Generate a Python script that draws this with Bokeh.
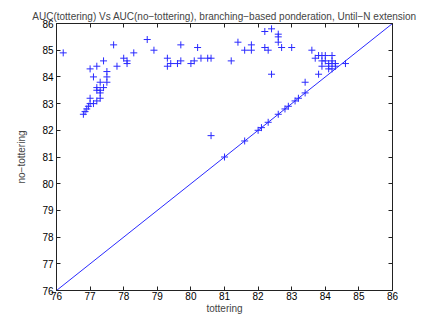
from bokeh.plotting import figure
from bokeh.models import LinearAxis, Range1d, FixedTicker, CustomJSTickFormatter
from bokeh.embed import file_html
from bokeh.resources import INLINE

tottering = [76.2, 76.8, 76.85, 76.9, 76.95, 77.0, 77.0, 77.1, 77.2, 77.2, 77.2, 77.3, 77.3, 77.3, 77.3,
             77.4, 77.5, 77.5, 77.5, 77.1, 77.0, 77.2, 77.4, 77.7, 77.8, 78.0, 78.1, 78.1, 78.3, 78.7,
             78.9, 79.3, 79.3, 79.4, 79.6, 79.7, 79.7, 80.0, 80.1, 80.2, 80.3, 80.5, 80.6, 80.6, 81.0,
             81.2, 81.4, 81.6, 81.6, 81.8, 81.8, 82.0, 82.1, 82.2, 82.2, 82.3, 82.3, 82.4, 82.4, 82.6,
             82.6, 82.6, 82.6, 82.7, 82.8, 82.9, 83.0, 83.1, 83.2, 83.4, 83.4, 83.6, 83.7, 83.8, 83.8,
             83.9, 83.9, 83.9, 84.0, 84.0, 84.1, 84.1, 84.2, 84.2, 84.2, 84.3, 84.3, 84.1, 84.6, 84.2]
no_tottering = [84.9, 82.6, 82.7, 82.8, 82.9, 83.0, 83.2, 83.0, 83.1, 83.5, 83.6, 83.2, 83.4, 83.5, 83.8,
                83.6, 83.8, 84.0, 84.2, 84.0, 84.3, 84.4, 84.6, 85.2, 84.4, 84.7, 84.6, 84.5, 84.9, 85.4,
                85.0, 84.7, 84.4, 84.5, 84.5, 85.2, 84.6, 84.5, 84.6, 85.1, 84.7, 84.7, 84.7, 81.8, 81.0,
                84.6, 85.3, 85.0, 81.6, 85.0, 85.2, 82.0, 82.1, 85.7, 85.1, 85.0, 82.3, 85.8, 84.1, 85.6,
                85.5, 85.3, 82.6, 85.1, 82.8, 82.9, 85.1, 83.1, 83.2, 83.4, 83.8, 85.0, 84.7, 84.1, 84.8,
                84.8, 84.6, 84.4, 84.8, 84.6, 84.5, 84.4, 84.8, 84.6, 84.5, 84.5, 84.4, 84.3, 84.5, 84.3]

diag_x = [76, 86]
diag_y = [76, 86]
ticks = [76, 77, 78, 79, 80, 81, 82, 83, 84, 85, 86]

FONT = "Liberation Sans"
BLUE = "#2a2aff"

p = figure(width=434, height=326, output_backend="svg", toolbar_location=None,
           x_range=Range1d(76, 86), y_range=Range1d(76, 86),
           min_border_left=56, min_border_right=42, min_border_top=23, min_border_bottom=36,
           title="AUC(tottering) Vs AUC(no\u2212tottering), branching\u2212based ponderation, Until\u2212N extension")

p.title.align = "center"
p.title.text_font = FONT
p.title.text_font_size = "10px"
p.title.text_font_style = "normal"
p.title.standoff = 4

p.grid.visible = False
p.outline_line_color = "#222222"
p.outline_line_width = 1
p.background_fill_color = "white"
p.border_fill_color = "white"

for ax in (p.xaxis[0], p.yaxis[0]):
    ax.ticker = FixedTicker(ticks=ticks)
    ax.major_tick_in = 4
    ax.major_tick_out = 0
    ax.minor_tick_line_color = None
    ax.axis_line_color = "#222222"
    ax.major_tick_line_color = "#222222"
    ax.major_label_text_font = FONT
    ax.major_label_text_font_size = "10px"
    ax.major_label_text_color = "black"
    ax.axis_label_text_font = FONT
    ax.axis_label_text_font_size = "10px"
    ax.axis_label_text_font_style = "normal"

p.xaxis[0].major_label_standoff = 1
p.xaxis[0].axis_label_standoff = 0
p.yaxis[0].major_label_standoff = 3
p.yaxis[0].axis_label_standoff = 12
p.xaxis.axis_label = "tottering"
p.yaxis.axis_label = "no\u2212tottering"

for loc in ("right", "above"):
    a = LinearAxis(ticker=FixedTicker(ticks=ticks), major_tick_in=4, major_tick_out=0,
                   minor_tick_line_color=None,
                   formatter=CustomJSTickFormatter(code="return ''"),
                   major_label_standoff=0, axis_line_color="#222222",
                   major_tick_line_color="#222222")
    p.add_layout(a, loc)

p.line(diag_x, diag_y, line_color=BLUE, line_width=1)
p.scatter(tottering, no_tottering, marker="cross", size=7, line_color=BLUE, line_width=1)

open("out.html", "w").write(file_html(p, INLINE))
